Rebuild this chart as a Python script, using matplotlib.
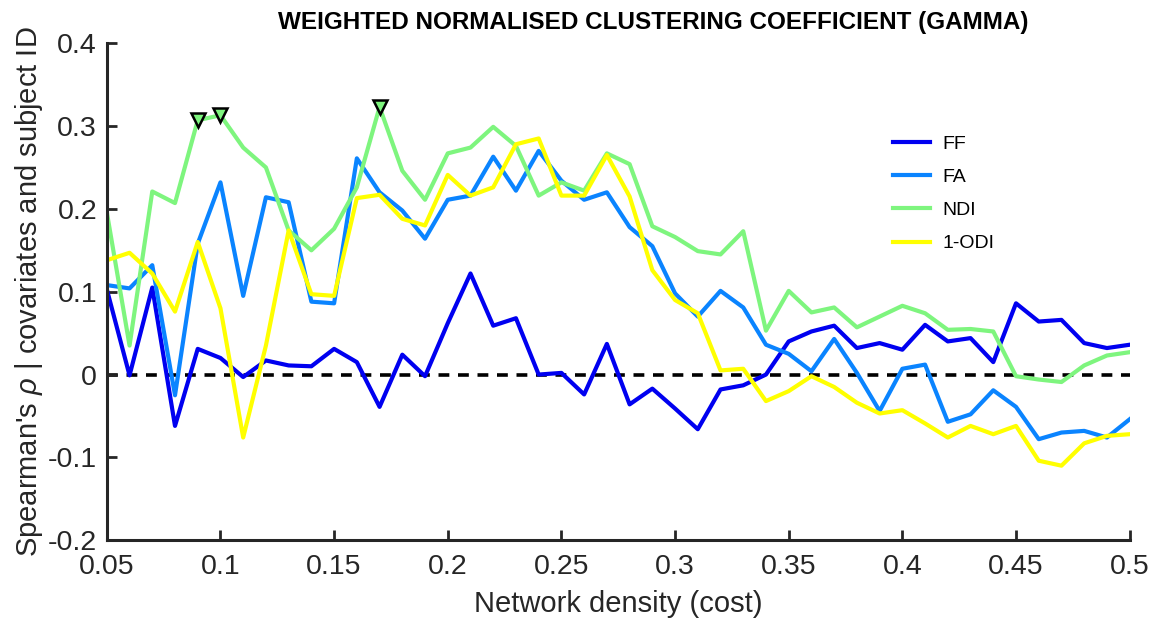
import numpy as np
import matplotlib
matplotlib.use("Agg")
import matplotlib.pyplot as plt
from matplotlib import font_manager

density = np.round(np.arange(0.05, 0.5001, 0.01), 2)

ff = [0.103, -0.001, 0.105, -0.062, 0.031, 0.020, -0.003, 0.017, 0.011, 0.010,
      0.031, 0.015, -0.039, 0.024, -0.002, 0.062, 0.122, 0.059, 0.068, 0.000,
      0.002, -0.024, 0.037, -0.036, -0.017, -0.041, -0.066, -0.018, -0.013, 0.000,
      0.040, 0.052, 0.059, 0.032, 0.038, 0.030, 0.060, 0.040, 0.044, 0.015,
      0.086, 0.064, 0.066, 0.038, 0.032, 0.036]
fa = [0.108, 0.104, 0.132, -0.025, 0.158, 0.232, 0.095, 0.214, 0.208, 0.088,
      0.086, 0.261, 0.220, 0.198, 0.164, 0.211, 0.216, 0.263, 0.222, 0.270,
      0.234, 0.211, 0.220, 0.178, 0.155, 0.098, 0.070, 0.101, 0.081, 0.036,
      0.025, 0.004, 0.043, 0.002, -0.044, 0.007, 0.012, -0.057, -0.048, -0.019,
      -0.039, -0.078, -0.070, -0.068, -0.076, -0.054]
ndi = [0.196, 0.035, 0.221, 0.207, 0.307, 0.313, 0.274, 0.250, 0.174, 0.150,
       0.176, 0.226, 0.323, 0.246, 0.211, 0.267, 0.274, 0.299, 0.276, 0.216,
       0.232, 0.222, 0.267, 0.254, 0.179, 0.166, 0.149, 0.145, 0.173, 0.053,
       0.101, 0.075, 0.081, 0.057, 0.070, 0.083, 0.074, 0.054, 0.055, 0.052,
       -0.002, -0.006, -0.009, 0.011, 0.023, 0.027]
odi = [0.138, 0.147, 0.122, 0.076, 0.160, 0.080, -0.076, 0.035, 0.174, 0.097,
       0.095, 0.213, 0.217, 0.188, 0.180, 0.241, 0.216, 0.226, 0.278, 0.285,
       0.216, 0.216, 0.265, 0.215, 0.126, 0.090, 0.074, 0.005, 0.007, -0.032,
       -0.020, -0.002, -0.015, -0.034, -0.047, -0.043, -0.059, -0.076, -0.062, -0.072,
       -0.062, -0.104, -0.110, -0.083, -0.074, -0.072]

# densities where NDI is flagged as significant
flag_density = [0.09, 0.10, 0.17]

series_names = ["FF", "FA", "NDI", "1-ODI"]
series_colors = ["#0000f0", "#0a84ff", "#7ef57e", "#ffff00"]

x_ticks = [0.05, 0.1, 0.15, 0.2, 0.25, 0.3, 0.35, 0.4, 0.45, 0.5]
x_tick_labels = ["0.05", "0.1", "0.15", "0.2", "0.25", "0.3", "0.35", "0.4", "0.45", "0.5"]
y_ticks = [-0.2, -0.1, 0.0, 0.1, 0.2, 0.3, 0.4]
y_tick_labels = ["-0.2", "-0.1", "0", "0.1", "0.2", "0.3", "0.4"]

available = {f.name for f in font_manager.fontManager.ttflist}
title_family = "Liberation Sans Narrow" if "Liberation Sans Narrow" in available else "Liberation Sans"
plt.rcParams["font.family"] = ["Liberation Sans", "DejaVu Sans"]
plt.rcParams["mathtext.fontset"] = "custom"
plt.rcParams["mathtext.it"] = "Liberation Sans:italic"
plt.rcParams["mathtext.rm"] = "Liberation Sans"

fig = plt.figure(figsize=(11.61, 6.26), dpi=100)
ax = fig.add_axes([0.092, 0.137, 0.881, 0.794])

ax.axhline(0, color="black", linestyle=(0, (3.0, 2.4)), linewidth=2.6, zorder=1)

for vals, name, col in zip([ff, fa, ndi, odi], series_names, series_colors):
    ax.plot(density, vals, color=col, linewidth=3.0, label=name, zorder=2)

ndi_arr = np.array(ndi)
idx = [int(np.argmin(np.abs(density - d))) for d in flag_density]
ax.plot(density[idx], ndi_arr[idx], linestyle="none", marker="v", markersize=10,
        markerfacecolor="#7ef57e", markeredgecolor="black", markeredgewidth=1.8, zorder=3)

ax.set_xlim(0.05, 0.5)
ax.set_ylim(-0.2, 0.4)
ax.set_xticks(x_ticks)
ax.set_xticklabels(x_tick_labels)
ax.set_yticks(y_ticks)
ax.set_yticklabels(y_tick_labels)
ax.tick_params(direction="in", length=7, width=2, colors="#262626", labelsize=20.5,
               labelcolor="#262626")
ax.tick_params(axis="x", pad=10)
ax.tick_params(axis="y", pad=7)

for side in ["top", "right"]:
    ax.spines[side].set_visible(False)
for side in ["left", "bottom"]:
    ax.spines[side].set_linewidth(2.2)
    ax.spines[side].set_color("#262626")

ax.set_xlabel("Network density (cost)", fontsize=21, color="#262626", labelpad=7)
ax.set_ylabel(r"Spearman's $\rho$ | covariates and subject ID", fontsize=21,
              color="#262626", labelpad=2)
fig.text(653 / 1161, 1 - 22 / 626, "WEIGHTED NORMALISED CLUSTERING COEFFICIENT (GAMMA)",
         fontsize=17.5, fontweight="bold", family=[title_family, "DejaVu Sans"],
         ha="center", va="center")

leg = ax.legend(loc="upper left", bbox_to_anchor=(0.752, 0.85), frameon=False,
                fontsize=14, handlelength=1.9, handletextpad=0.6, labelspacing=0.8)
for line in leg.get_lines():
    line.set_linewidth(3.0)

fig.savefig("out.png", dpi=100)
